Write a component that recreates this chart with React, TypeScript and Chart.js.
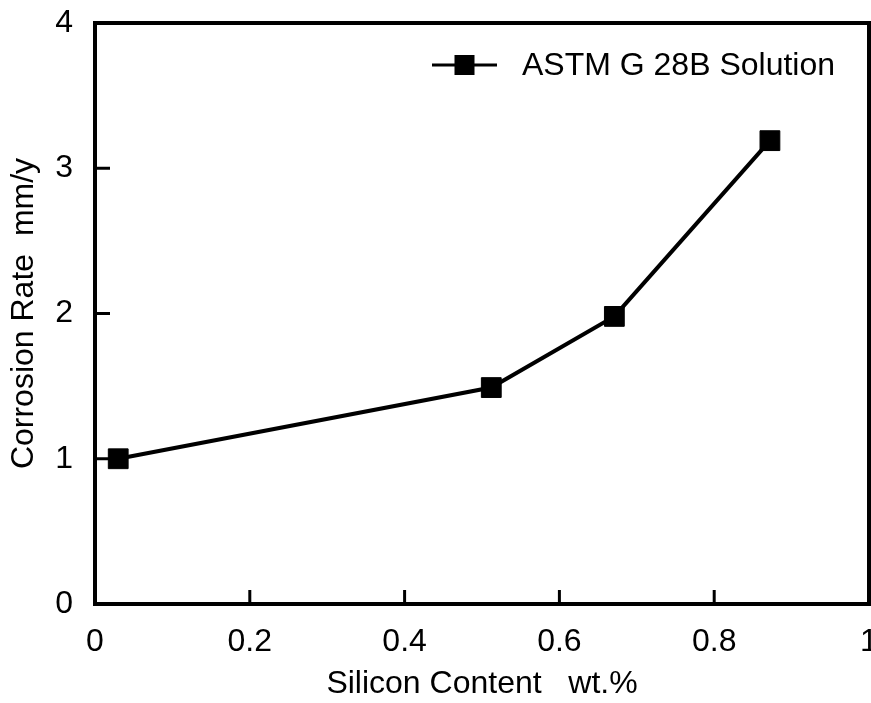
import { useEffect, useRef } from "react";
import { Chart, registerables } from "chart.js";

Chart.register(...registerables);

const seriesLabel = "ASTM G 28B Solution";
const siliconContent = [0.03, 0.512, 0.671, 0.872];
const corrosionRate = [1.0, 1.49, 1.98, 3.19];
const xTickValues = [0, 0.2, 0.4, 0.6, 0.8, 1];
const yTickValues = [0, 1, 2, 3, 4];
const xTitle = "Silicon Content   wt.%";
const yTitle = "Corrosion Rate  mm/y";

const FONT = "'Liberation Sans', Arial, Helvetica, sans-serif";

const framePlugin = {
  id: "frameAndLegend",
  afterDraw(chart: any) {
    const { ctx, chartArea } = chart;
    const { left, right, top, bottom } = chartArea;
    ctx.save();
    ctx.strokeStyle = "#000";
    ctx.lineCap = "butt";
    // inner tick marks
    ctx.lineWidth = 3;
    const xs = chart.scales.x;
    const ys = chart.scales.y;
    xTickValues.slice(1, -1).forEach((v) => {
      const px = xs.getPixelForValue(v);
      ctx.beginPath();
      ctx.moveTo(px, bottom);
      ctx.lineTo(px, bottom - 14);
      ctx.stroke();
    });
    yTickValues.slice(1, -1).forEach((v) => {
      const py = ys.getPixelForValue(v);
      ctx.beginPath();
      ctx.moveTo(left, py);
      ctx.lineTo(left + 15, py);
      ctx.stroke();
    });
    // frame
    ctx.lineWidth = 4;
    ctx.strokeRect(left, top, right - left, bottom - top);

    // legend
    const ly = top + 42;
    const lx0 = right - 437;
    const lx1 = right - 372;
    ctx.lineWidth = 3;
    ctx.beginPath();
    ctx.moveTo(lx0, ly);
    ctx.lineTo(lx1, ly);
    ctx.stroke();
    const cx = (lx0 + lx1) / 2;
    ctx.fillStyle = "#000";
    ctx.fillRect(cx - 10, ly - 10, 20, 20);
    ctx.font = `32px ${FONT}`;
    ctx.textAlign = "left";
    ctx.textBaseline = "middle";
    ctx.fillText(chart.data.datasets[0].label, lx1 + 25, ly + 1);
    ctx.restore();
  },
};

export default function App() {
  const ref = useRef<HTMLCanvasElement | null>(null);

  useEffect(() => {
    if (!ref.current) return;
    const chart = new Chart(ref.current, {
      type: "line",
      data: {
        datasets: [
          {
            label: seriesLabel,
            data: siliconContent.map((x, i) => ({ x, y: corrosionRate[i] })),
            borderColor: "#000",
            backgroundColor: "#000",
            borderWidth: 4,
            pointStyle: "rect",
            pointRadius: 14,
            pointBorderWidth: 1,
            pointBackgroundColor: "#000",
            pointBorderColor: "#000",
            tension: 0,
          },
        ],
      },
      options: {
        responsive: false,
        animation: false,
        devicePixelRatio: 1,
        layout: { autoPadding: false, padding: { top: 23, right: 2, left: 0, bottom: 0 } },
        plugins: {
          legend: { display: false },
          tooltip: { enabled: false },
        },
        scales: {
          x: {
            type: "linear",
            min: 0,
            max: 1,
            grid: { display: false, drawTicks: false },
            border: { display: false },
            afterBuildTicks: (scale: any) => {
              scale.ticks = xTickValues.map((v) => ({ value: v }));
            },
            afterFit: (scale: any) => {
              scale.height = 99;
              scale.paddingLeft = 0;
              scale.paddingRight = 0;
            },
            ticks: {
              color: "#000",
              font: { family: FONT, size: 32 },
              padding: 19,
              maxRotation: 0,
              autoSkip: false,
              callback: (v: any) => String(v),
            },
            title: {
              display: true,
              text: xTitle,
              color: "#000",
              font: { family: FONT, size: 32 },
              padding: { top: 0, bottom: 0 },
            },
          },
          y: {
            type: "linear",
            min: 0,
            max: 4,
            grid: { display: false, drawTicks: false },
            border: { display: false },
            afterBuildTicks: (scale: any) => {
              scale.ticks = yTickValues.map((v) => ({ value: v }));
            },
            afterFit: (scale: any) => {
              scale.width = 95;
              scale.paddingTop = 0;
              scale.paddingBottom = 0;
            },
            ticks: {
              color: "#000",
              font: { family: FONT, size: 32 },
              padding: 22,
              autoSkip: false,
              callback: (v: any) => String(v),
            },
            title: {
              display: true,
              text: yTitle,
              color: "#000",
              font: { family: FONT, size: 32 },
              padding: { top: 5, bottom: 0 },
            },
          },
        },
      },
      plugins: [framePlugin],
    });
    return () => chart.destroy();
  }, []);

  return (
    <div style={{ position: "absolute", left: 0, top: 0, width: 871, height: 703, background: "#fff" }}>
      <canvas ref={ref} width={871} height={703} style={{ display: "block" }} />
    </div>
  );
}
